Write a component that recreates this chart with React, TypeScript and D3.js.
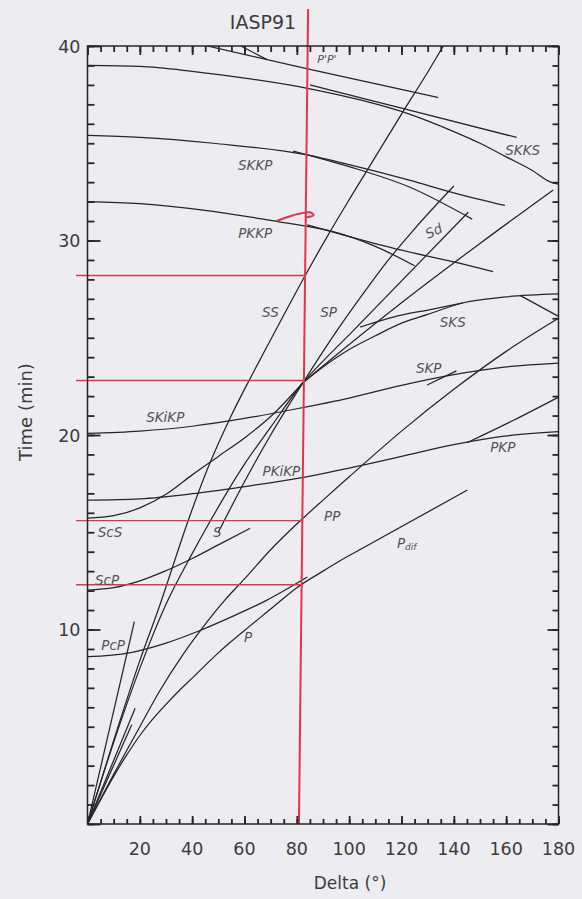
import React, { useEffect, useRef } from 'react';
import * as d3 from 'd3';

type Pt = [number, number];

// travel-time branches, [delta (deg), time (min)]
const P: Pt[] = [[0, 0], [5, 1.25], [10, 2.45], [15, 3.55], [20, 4.55], [25, 5.4], [30, 6.15], [35, 6.85], [40, 7.5], [50, 8.8], [60, 9.95], [70, 11.05], [80, 12.15], [90, 13.0], [98, 13.65]];
const Pdif: Pt[] = [[98, 13.65], [145.2, 17.17]];
const Pg: Pt[] = [[0, 0], [18.2, 5.95]];
const Pg2: Pt[] = [[0, 0], [16.9, 5.1]];
const Sg: Pt[] = [[0, 0], [17.9, 10.4]];
const PP: Pt[] = [[0, 0], [10, 2.55], [20, 5.0], [27.4, 6.8], [36.4, 8.7], [44, 10.1], [52.4, 11.5], [60, 12.6], [70, 14.1], [81.4, 15.6], [90, 16.65], [100, 17.85], [120, 20.2], [140, 22.35], [160, 24.3], [180, 26.0]];
const PcP: Pt[] = [[0, 8.6], [16, 8.8], [30, 9.3], [43, 9.95], [55, 10.65], [68.4, 11.5], [84, 12.7]];
const ScP: Pt[] = [[0, 12.03], [10, 12.15], [20, 12.5], [28.9, 12.96], [40, 13.65], [50, 14.35], [62.1, 15.2]];
const ScS: Pt[] = [[0, 15.72], [10, 15.85], [20, 16.25], [30, 16.95], [40, 17.95], [50, 18.9], [60, 19.85], [70, 20.95], [82.4, 22.7]];
const S: Pt[] = [[0, 0], [10, 4.2], [20, 8.0], [30, 11.3], [40, 13.9], [46.6, 15.5], [60, 18.5], [70, 20.4], [82.4, 22.7], [90, 23.8], [100, 25.15]];
const Sdif: Pt[] = [[100, 25.15], [145.5, 31.45]];
const SS: Pt[] = [[0, 0], [10, 4.3], [20, 8.4], [27, 11.0], [39, 15.8], [46, 18.3], [54.6, 20.9], [63.3, 23.2], [70, 24.9], [83.2, 28.2], [91.6, 30.2], [100, 32.1], [110, 34.3], [120, 36.5], [130, 38.65], [136, 40]];
const SP: Pt[] = [[50, 15.0], [60, 17.6], [70, 20.0], [82.4, 22.7], [95, 25.3], [105, 27.2], [115, 29.0], [125, 30.6], [140, 32.8]];
const SKS: Pt[] = [[82.4, 22.7], [90, 23.5], [100, 24.4], [110, 25.1], [120, 25.75], [130, 26.2], [143.6, 26.8], [160, 27.1], [180, 27.25]];
const SKS2: Pt[] = [[104.2, 25.55], [119.5, 26.15], [131, 26.45], [143.6, 26.8]];
const SKSback: Pt[] = [[165.3, 27.18], [180, 26.1]];
const SKSP: Pt[] = [[82.4, 22.7], [100, 24.65], [125.8, 27.4], [150, 29.85], [178, 32.6]];
const SKiKP: Pt[] = [[0, 20.08], [20, 20.2], [40, 20.45], [60, 20.85], [80, 21.35], [100, 21.9], [120, 22.55], [140, 23.1], [160, 23.5], [180, 23.7]];
const SKP: Pt[] = [[129.8, 22.57], [141, 23.3]];
const PKiKP: Pt[] = [[0, 16.65], [20, 16.72], [40, 16.98], [60, 17.35], [81.4, 17.8], [100, 18.3], [120, 18.9], [140, 19.5], [160, 19.95], [180, 20.17]];
const PKP: Pt[] = [[145, 19.6], [163, 20.77], [180, 21.95]];
const PKKP: Pt[] = [[0, 32.0], [20, 31.9], [48, 31.5], [73.7, 30.95], [85, 30.7], [92.7, 30.5], [110, 29.7], [125, 28.7]];
const PKKP2: Pt[] = [[84, 30.8], [100, 30.2], [120, 29.5], [140, 28.9], [155, 28.4]];
const SKKP: Pt[] = [[0, 35.4], [20, 35.3], [48, 35.0], [84, 34.4], [100, 33.9], [123, 33.1], [140, 32.45], [159.5, 31.8]];
const SKKP2: Pt[] = [[78.6, 34.6], [100, 33.8], [123, 32.75], [147, 31.1]];
const SKKS: Pt[] = [[0, 39.0], [20, 38.95], [40, 38.7], [60, 38.35], [85, 37.8], [105, 37.2], [123, 36.5], [140, 35.6], [150, 35.0], [160, 34.3], [170, 33.6], [177, 33.0], [180, 32.9]];
const SKKS2: Pt[] = [[85, 38.0], [123, 36.7], [164, 35.3]];
const PpPp: Pt[] = [[45.8, 40], [85, 38.8], [134, 37.35]];
const PpPp2: Pt[] = [[58.6, 40], [68.6, 39.3]];

const branches: Pt[][] = [P, Pdif, Pg, Pg2, Sg, PP, PcP, ScP, ScS, S, Sdif, SS, SP, SKS, SKS2, SKSback, SKSP, SKiKP, SKP, PKiKP, PKP, PKKP, PKKP2, SKKP, SKKP2, SKKS, SKKS2, PpPp, PpPp2];

// phase names and where they sit (delta, time)
const labelNames = ["P'P'", 'SKKS', 'SKKP', 'PKKP', 'Sd', 'SS', 'SP', 'SKS', 'SKP', 'SKiKP', 'PKiKP', 'PKP', 'ScS', 'S', 'PP', 'ScP', 'P', 'PcP'];
const labelAt: Pt[] = [[91.5, 39.3], [166.3, 34.65], [64.1, 33.9], [64.1, 30.4], [132.3, 30.5], [69.9, 26.3], [92.1, 26.3], [139.6, 25.8], [130.4, 23.45], [29.7, 20.9], [74.1, 18.15], [158.7, 19.4], [8.6, 15.0], [49.6, 15.0], [93.5, 15.85], [7.5, 12.55], [61.4, 9.6], [9.8, 9.2]];
const pdifAt: Pt[] = [[122, 14.45]];

// red pencil marks
const redVertical: Pt[] = [[84.3, 41.9], [80.8, 0]];
const redLevels = [28.2, 22.8, 15.6, 12.3];
const redHook: Pt[] = [[72.3, 31.0], [78.6, 31.3], [85.0, 31.45], [86.4, 31.3], [83.0, 31.18]];

const deltaTicks = [20, 40, 60, 80, 100, 120, 140, 160, 180];
const timeTicks = [10, 20, 30, 40];

const W = 582;
const H = 899;

export default function App() {
  const axRef = useRef<SVGGElement>(null);
  const x = d3.scaleLinear().domain([0, 180]).range([87.5, 558.5]);
  const y = d3.scaleLinear().domain([0, 40]).range([824, 46]);
  const curve = d3.line<Pt>().x(d => x(d[0])).y(d => y(d[1])).curve(d3.curveMonotoneX);
  const straight = d3.line<Pt>().x(d => x(d[0])).y(d => y(d[1]));
  const hook = d3.line<Pt>().x(d => x(d[0])).y(d => y(d[1])).curve(d3.curveCatmullRom);

  const [x0, x1] = x.range();
  const [yb, yt] = y.range();
  const ink = '#262626';
  const red = '#e8324c';
  const font = '"DejaVu Sans", sans-serif';

  const vAt = (t: number) => {
    const [a, b] = redVertical;
    const f = (t - b[1]) / (a[1] - b[1]);
    return b[0] + f * (a[0] - b[0]);
  };

  // inward tick marks on all four sides, drawn with d3 axes
  useEffect(() => {
    const g = d3.select(axRef.current);
    g.selectAll('*').remove();
    const xMinor = d3.range(0, 181, 5);
    const xMajor = d3.range(0, 181, 20);
    const yMinor = d3.range(0, 41, 1);
    const yMajor = d3.range(0, 41, 10);
    const put = (sel: d3.Selection<SVGGElement, unknown, null, undefined>, axis: d3.Axis<d3.NumberValue>) => {
      sel.call(axis);
      sel.select('.domain').remove();
      sel.selectAll('text').remove();
      sel.selectAll('line').attr('stroke', ink).attr('stroke-width', 1.8);
    };
    put(g.append('g').attr('transform', `translate(0,${yb})`), d3.axisTop(x).tickValues(xMinor).tickSize(5));
    put(g.append('g').attr('transform', `translate(0,${yb})`), d3.axisTop(x).tickValues(xMajor).tickSize(8));
    put(g.append('g').attr('transform', `translate(0,${yt})`), d3.axisBottom(x).tickValues(xMinor).tickSize(6));
    put(g.append('g').attr('transform', `translate(0,${yt})`), d3.axisBottom(x).tickValues(xMajor).tickSize(9));
    put(g.append('g').attr('transform', `translate(${x0},0)`), d3.axisRight(y).tickValues(yMinor).tickSize(7));
    put(g.append('g').attr('transform', `translate(${x0},0)`), d3.axisRight(y).tickValues(yMajor).tickSize(13));
    put(g.append('g').attr('transform', `translate(${x1},0)`), d3.axisLeft(y).tickValues(yMinor).tickSize(6));
    put(g.append('g').attr('transform', `translate(${x1},0)`), d3.axisLeft(y).tickValues(yMajor).tickSize(11));
  }, []);

  return (
    <div style={{ position: 'absolute', left: 0, top: 0 }}>
      <svg width={W} height={H} style={{ display: 'block', background: '#ececf1' }}>
        <defs>
          <clipPath id="plot">
            <rect x={x0} y={yt} width={x1 - x0} height={yb - yt} />
          </clipPath>
        </defs>

        {/* travel-time curves */}
        <g clipPath="url(#plot)" fill="none" stroke={ink} strokeWidth={1.25}>
          {branches.map((b, i) => (
            <path key={i} d={(b.length > 2 ? curve(b) : straight(b)) || ''} />
          ))}
        </g>

        {/* red annotation */}
        <g stroke={red} fill="none">
          <path d={straight(redVertical) || ''} strokeWidth={2} />
          {redLevels.map(t => (
            <path key={t} d={straight([[-4.4, t], [vAt(t), t]]) || ''} strokeWidth={1.4} />
          ))}
          <path d={hook(redHook) || ''} strokeWidth={2} />
        </g>

        {/* frame and ticks */}
        <rect x={x0} y={yt} width={x1 - x0} height={yb - yt} fill="none" stroke={ink} strokeWidth={1.5} />
        <g ref={axRef} />

        {/* phase labels */}
        <g fontFamily={font} fontStyle="italic" fill="#555" textAnchor="middle" dominantBaseline="central">
          {labelNames.map((n, i) => (
            <text key={n} x={x(labelAt[i][0])} y={y(labelAt[i][1])}
              fontSize={n === "P'P'" ? 11 : 13.5}
              transform={n === 'Sd' ? `rotate(-25 ${x(labelAt[i][0])} ${y(labelAt[i][1])})` : undefined}>
              {n}
            </text>
          ))}
          {pdifAt.map((d, i) => (
            <text key={'pd' + i} x={x(d[0])} y={y(d[1])} fontSize={13.5}>
              P<tspan fontSize={9} dy={4}>dif</tspan>
            </text>
          ))}
        </g>

        {/* axis labels */}
        <g fontFamily={font} fill="#3c3c3c" fontSize={17.5}>
          {deltaTicks.map(d => (
            <text key={'xl' + d} x={x(d)} y={yb + 31} textAnchor="middle">{d}</text>
          ))}
          {timeTicks.map(t => (
            <text key={'yl' + t} x={x0 - 7} y={y(t) + 6.5} textAnchor="end">{t}</text>
          ))}
        </g>
        <text x={350} y={889} textAnchor="middle" fontFamily={font} fontSize={17} fill="#3c3c3c">{'Delta (°)'}</text>
        <text transform={`translate(32, ${412}) rotate(-90)`} textAnchor="middle" fontFamily={font} fontSize={18} fill="#3c3c3c">{'Time (min)'}</text>
        <text x={263} y={29} textAnchor="middle" fontFamily={font} fontSize={19} fill="#3c3c3c">{'IASP91'}</text>
      </svg>
    </div>
  );
}
